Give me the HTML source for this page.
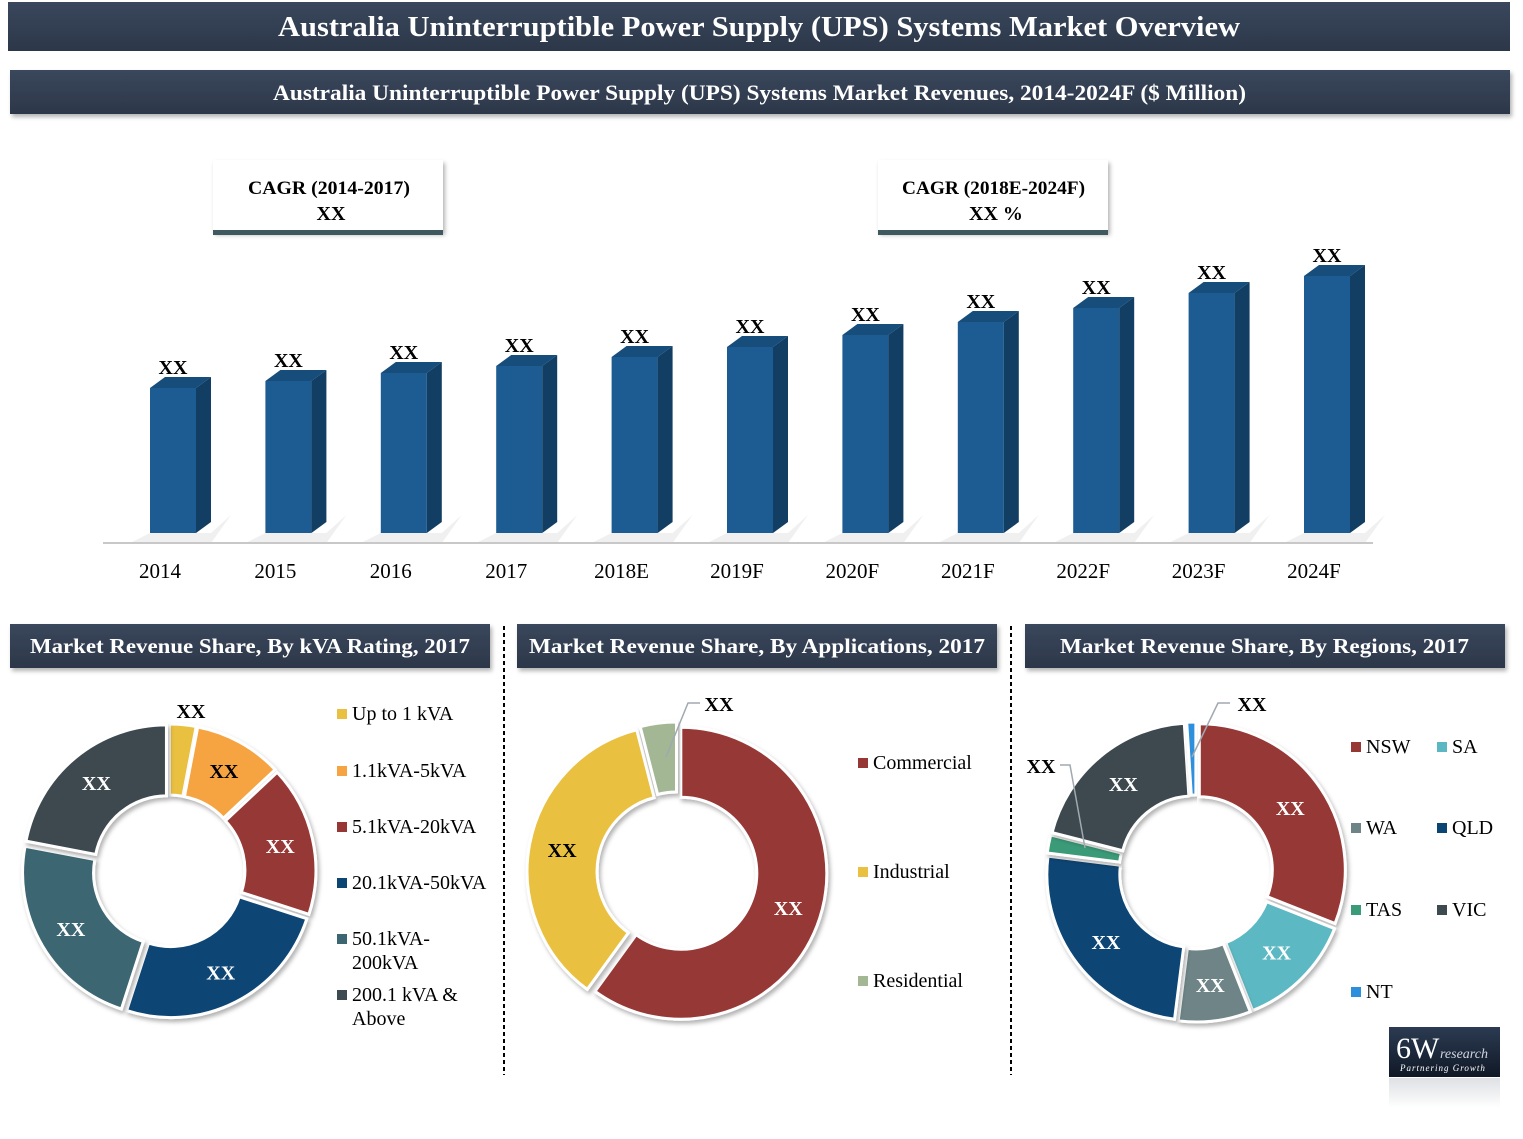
<!DOCTYPE html>
<html><head><meta charset="utf-8"><style>
body{margin:0;width:1523px;height:1134px;background:#fff;overflow:hidden;font-family:"Liberation Serif",serif}
svg text{font-family:"Liberation Serif",serif}
</style></head><body>
<svg id="s" width="1523" height="1134" xmlns="http://www.w3.org/2000/svg">
<defs>
<linearGradient id="hdr" x1="0" y1="0" x2="0" y2="1"><stop offset="0" stop-color="#3a475c"/><stop offset="1" stop-color="#2c3749"/></linearGradient>
<linearGradient id="logo" x1="0" y1="0" x2="0" y2="1"><stop offset="0" stop-color="#2c3b52"/><stop offset="1" stop-color="#0f1826"/></linearGradient>
<linearGradient id="refl" x1="0" y1="0" x2="0" y2="1"><stop offset="0" stop-color="#c8ccd2"/><stop offset="1" stop-color="#fff"/></linearGradient>
<filter id="sh" x="-10%" y="-10%" width="120%" height="130%"><feDropShadow dx="2" dy="3" stdDeviation="2" flood-opacity="0.3"/></filter>
</defs>
<rect x="8" y="2" width="1502" height="49" fill="url(#hdr)"/>
<text x="278" y="36" textLength="962" lengthAdjust="spacingAndGlyphs" fill="#fff" font-size="28" font-weight="bold">Australia Uninterruptible Power Supply (UPS) Systems Market Overview</text>
<rect x="10" y="70" width="1500" height="44" fill="url(#hdr)" filter="url(#sh)"/>
<text x="273" y="100" textLength="973" lengthAdjust="spacingAndGlyphs" fill="#fff" font-size="22" font-weight="bold">Australia Uninterruptible Power Supply (UPS) Systems Market Revenues, 2014-2024F ($ Million)</text>
<g>
<rect x="213" y="160" width="230" height="72" fill="#fff" filter="url(#sh)"/>
<rect x="213" y="230" width="230" height="5" fill="#3f5a5e"/>
<text x="248" y="194" textLength="162" lengthAdjust="spacingAndGlyphs" font-size="19" font-weight="bold">CAGR (2014-2017)</text>
<text x="331" y="220" text-anchor="middle" font-size="20" font-weight="bold">XX</text></g>
<g>
<rect x="878" y="160" width="230" height="72" fill="#fff" filter="url(#sh)"/>
<rect x="878" y="230" width="230" height="5" fill="#3f5a5e"/>
<text x="902" y="194" textLength="183" lengthAdjust="spacingAndGlyphs" font-size="19" font-weight="bold">CAGR (2018E-2024F)</text>
<text x="996" y="220" text-anchor="middle" font-size="20" font-weight="bold">XX %</text></g>
<g id="bars"></g>
<line x1="103" y1="543" x2="1373" y2="543" stroke="#c8c8c8" stroke-width="2"/>
<g>
<rect x="10" y="624" width="480" height="44" fill="url(#hdr)" filter="url(#sh)"/>
<text x="30" y="653" textLength="440" lengthAdjust="spacingAndGlyphs" fill="#fff" font-size="21" font-weight="bold">Market Revenue Share, By kVA Rating, 2017</text>
<rect x="517" y="624" width="480" height="44" fill="url(#hdr)" filter="url(#sh)"/>
<text x="529" y="653" textLength="456" lengthAdjust="spacingAndGlyphs" fill="#fff" font-size="21" font-weight="bold">Market Revenue Share, By Applications, 2017</text>
<rect x="1025" y="624" width="480" height="44" fill="url(#hdr)" filter="url(#sh)"/>
<text x="1060" y="653" textLength="409" lengthAdjust="spacingAndGlyphs" fill="#fff" font-size="21" font-weight="bold">Market Revenue Share, By Regions, 2017</text>
</g>
<line x1="504" y1="626" x2="504" y2="1075" stroke="#000" stroke-width="2" stroke-dasharray="4,3"/>
<line x1="1011" y1="626" x2="1011" y2="1075" stroke="#000" stroke-width="2" stroke-dasharray="4,3"/>
<g id="d1"></g><g id="d2"></g><g id="d3"></g>
<g>
<rect x="1389" y="1027" width="111" height="50" fill="url(#logo)"/>
<text x="1396" y="1058" fill="#fff" font-size="30">6W</text>
<text x="1440" y="1058" fill="#cfd6df" font-size="14" font-style="italic">research</text>
<text x="1400" y="1071" fill="#fff" font-size="9" font-style="italic" font-family="Liberation Sans" letter-spacing="1">Partnering Growth</text>
<rect x="1389" y="1078" width="111" height="30" fill="url(#refl)" opacity="0.6"/>
</g>
</svg>
<script>
const years=["2014","2015","2016","2017","2018E","2019F","2020F","2021F","2022F","2023F","2024F"];
const revenue=[145,152,160,167,176,186,198,211,225,240,257];
const barLabels=["XX","XX","XX","XX","XX","XX","XX","XX","XX","XX","XX"];
const kvaLabels=["Up to 1 kVA","1.1kVA-5kVA","5.1kVA-20kVA","20.1kVA-50kVA","50.1kVA-200kVA","200.1 kVA & Above"];
const kvaShare=[3,10,17,25,23,22];
const appLabels=["Commercial","Industrial","Residential"];
const appShare=[60,36,4];
const regionLabels=["NSW","SA","WA","QLD","TAS","VIC","NT"];
const regionShare=[31,13,8,25,2,20,1];

const NS="http://www.w3.org/2000/svg";
function mk(p,t,a){const e=document.createElementNS(NS,t);for(const k in a)e.setAttribute(k,a[k]);p.appendChild(e);return e;}
const base=533, x0=150, step=115.4, bw=46, dx=15, dy=11;
const yScale=v=>base-v;
const bars=document.getElementById('bars');
years.forEach((y,i)=>{
  const x=x0+i*step, top=yScale(revenue[i]);
  const g=mk(bars,'g',{});
  
  
  mk(g,'polygon',{points:`${x-20},${base+10} ${x+bw+dx},${base+10} ${x+bw+dx+20},${base-18} ${x+bw+dx},${base} ${x},${base}`,fill:'#e6e6e6',opacity:'0.6'});
  mk(g,'rect',{x:x,y:top,width:bw,height:base-top,fill:'#1c5c93'});
  mk(g,'polygon',{points:`${x+bw},${top} ${x+bw+dx},${top-dy} ${x+bw+dx},${base-dy} ${x+bw},${base}`,fill:'#123e63'});
  mk(g,'polygon',{points:`${x},${top} ${x+dx},${top-dy} ${x+bw+dx},${top-dy} ${x+bw},${top}`,fill:'#164d7b'});
  const l=mk(g,'text',{x:x+bw/2,y:top-14,'text-anchor':'middle','font-size':'20','font-weight':'bold'});
  l.textContent=barLabels[i];
  const t=mk(bars,'text',{x:x+bw/2-13,y:578,'text-anchor':'middle','font-size':'21'});
  
  
  t.textContent=y;
});

function donut(id,cx,cy,R,r,vals,cols,names,labelFn,gap){
  const g=document.getElementById(id);
  const tot=vals.reduce((a,b)=>a+b,0);let acc=0;
  vals.forEach((v,i)=>{
    const a0=acc/tot*2*Math.PI, a1=(acc+v)/tot*2*Math.PI; acc+=v;
    const am=(a0+a1)/2, ox=gap*Math.sin(am), oy=-gap*Math.cos(am);
    const P=(a,rr)=>[cx+ox+rr*Math.sin(a),cy+oy-rr*Math.cos(a)];
    const large=(a1-a0)>Math.PI?1:0;
    const [x1,y1]=P(a0,R),[x2,y2]=P(a1,R),[x3,y3]=P(a1,r),[x4,y4]=P(a0,r);
    const p=mk(g,'path',{d:`M${x1},${y1}A${R},${R} 0 ${large} 1 ${x2},${y2}L${x3},${y3}A${r},${r} 0 ${large} 0 ${x4},${y4}Z`,fill:cols[i],stroke:'#fff','stroke-width':'3',filter:'url(#sh)'});
    
    
    const lp=labelFn(i,am,P);
    if(lp){const t=mk(g,'text',{x:lp[0],y:lp[1],'text-anchor':'middle','font-size':'20','font-weight':'bold',fill:lp[2]||'#fff'});t.textContent='XX';}
  });
}
function legend(id,items){
  const g=document.getElementById(id);
  items.forEach(it=>{
    const lg=mk(g,'g',{});
    
    
    mk(lg,'rect',{x:it.x,y:it.y-11,width:10,height:10,fill:it.c});
    it.t.forEach((s,k)=>{const t=mk(lg,'text',{x:it.x+15,y:it.y+k*24,'font-size':'20'});t.textContent=s;});
  });
}
const c1=['#e9c03f','#f6a443','#963735','#0b4574','#3b6672','#3d4a4f'];
donut('d1',169,871,143,72,kvaShare,c1,['up-to-1kva','1-5kva','5-20kva','20-50kva','50-200kva','200kva-above'],(i,am,P)=>{
  if(i===0) return [191,718,'#000'];
  const [x,y]=P(am,110);return [x,y+7,i===1?'#000':'#fff'];},4);
legend('d1',[{x:337,y:720,c:c1[0],t:['Up to 1 kVA'],n:'up-to-1kva'},{x:337,y:777,c:c1[1],t:['1.1kVA-5kVA'],n:'1-5kva'},{x:337,y:833,c:c1[2],t:['5.1kVA-20kVA'],n:'5-20kva'},{x:337,y:889,c:c1[3],t:['20.1kVA-50kVA'],n:'20-50kva'},{x:337,y:945,c:c1[4],t:['50.1kVA-','200kVA'],n:'50-200kva'},{x:337,y:1001,c:c1[5],t:['200.1 kVA &','Above'],n:'200kva-above'}]);
const c2=['#963735','#e9c03f','#a3b795'];
donut('d2',677,872,146,76,appShare,c2,['commercial','industrial','residential'],(i,am,P)=>{
  if(i===2) return [719,711,'#000'];
  const [x,y]=P(am,113);return [x,y+7,i===1?'#000':'#fff'];},4);
mk(document.getElementById('d2'),'polyline',{points:'666,757 688,703 700,703',fill:'none',stroke:'#a0a8b0','stroke-width':'1.5'});
legend('d2',[{x:858,y:769,c:c2[0],t:['Commercial'],n:'commercial'},{x:858,y:878,c:c2[1],t:['Industrial'],n:'industrial'},{x:858,y:987,c:c2[2],t:['Residential'],n:'residential'}]);
const c3=['#963735','#5bb8c2','#6e8486','#0b4574','#3a9b78','#3d4a4f','#2d8fdc'];
donut('d3',1196,872,146,73,regionShare,c3,['nsw','sa','wa','qld','tas','vic','nt'],(i,am,P)=>{
  if(i===6) return [1252,711,'#000'];
  if(i===4) return [1041,773,'#000'];
  const [x,y]=P(am,110);return [x,y+7];},4);
mk(document.getElementById('d3'),'polyline',{points:'1192,757 1218,703 1230,703',fill:'none',stroke:'#a0a8b0','stroke-width':'1.5'});
mk(document.getElementById('d3'),'polyline',{points:'1060,765 1070,765 1085,848',fill:'none',stroke:'#a0a8b0','stroke-width':'1.5'});
legend('d3',[{x:1351,y:753,c:c3[0],t:['NSW'],n:'nsw'},{x:1437,y:753,c:c3[1],t:['SA'],n:'sa'},{x:1351,y:834,c:c3[2],t:['WA'],n:'wa'},{x:1437,y:834,c:c3[3],t:['QLD'],n:'qld'},{x:1351,y:916,c:c3[4],t:['TAS'],n:'tas'},{x:1437,y:916,c:c3[5],t:['VIC'],n:'vic'},{x:1351,y:998,c:c3[6],t:['NT'],n:'nt'}]);
</script>
</body></html>
